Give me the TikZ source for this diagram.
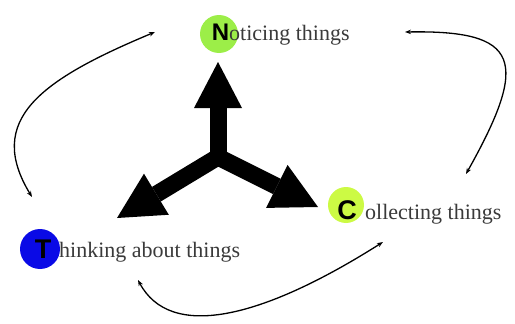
\documentclass[tikz,border=0pt]{standalone}
\usepackage{fontspec}
\setmainfont{Liberation Serif}
\newfontfamily\letterfont{Liberation Sans}
\usetikzlibrary{arrows.meta}
\definecolor{ngreen}{HTML}{9CEE48}
\definecolor{cyellow}{HTML}{CCFA44}
\definecolor{tblue}{HTML}{0A0AE6}
\definecolor{txtgray}{HTML}{3A3A3A}
\tikzset{
  bigtip/.tip={Triangle[width=48pt,length=46pt,line width=0pt]},
  smalltip/.tip={Stealth[length=6pt,width=4.5pt]}
}
\begin{document}
\begin{tikzpicture}[x=1pt,y=-1pt,
  dot/.style={circle,inner sep=0pt,minimum size=#1},
  letter/.style={anchor=base,inner sep=0pt,font=\letterfont\bfseries\fontsize{#1}{28}\selectfont,text=black},
  label/.style={anchor=base west,inner sep=0pt,font=\fontsize{22}{26}\selectfont,text=txtgray},
  thin arrow/.style={line width=1.3pt,smalltip-smalltip},
  big arrow/.style={line width=17pt,line join=miter}
]
\useasboundingbox (0,0) rectangle (515,324);

% circles
\node[dot=38pt,fill=ngreen] (ncirc) at (219,34) {};
\node[dot=40pt,fill=tblue] (tcirc) at (40,249) {};
\node[dot=36pt,fill=cyellow] (ccirc) at (346,205) {};

% texts
\node[label] (ntext) at (229,41) {oticing things};
\node[letter=24] (nlet) at (220.5,41) {N};
\node[label] (ttext) at (59,257) {hinking about things};
\node[letter=27] (tlet) at (43,258) {T};
\node[label] (ctext) at (365,219) {ollecting things};
\node[letter=27] (clet) at (347,219) {C};

% big arrows
\coordinate (hub) at (218,157);
\coordinate (hubup) at (218,167);
\coordinate (uptip) at (218,62);
\coordinate (lefttip) at (117,218);
\coordinate (righttip) at (318,207);
\draw[big arrow,bigtip-bigtip] (lefttip) -- (hub) -- (righttip);
\draw[big arrow,-bigtip] (hubup) -- (uptip);

% curved arrows
\coordinate (l1) at (155,32);
\coordinate (l2) at (32,197);
\coordinate (r1) at (405,32);
\coordinate (r2) at (466,174);
\coordinate (b1) at (138,280);
\coordinate (b2) at (383,242);
\draw[thin arrow] (l1) .. controls (40,80) and (-15,120) .. (l2);
\draw[thin arrow] (r1) .. controls (520,30) and (530,60) .. (r2);
\draw[thin arrow] (b1) .. controls (170,340) and (260,320) .. (b2);
\end{tikzpicture}
\end{document}
